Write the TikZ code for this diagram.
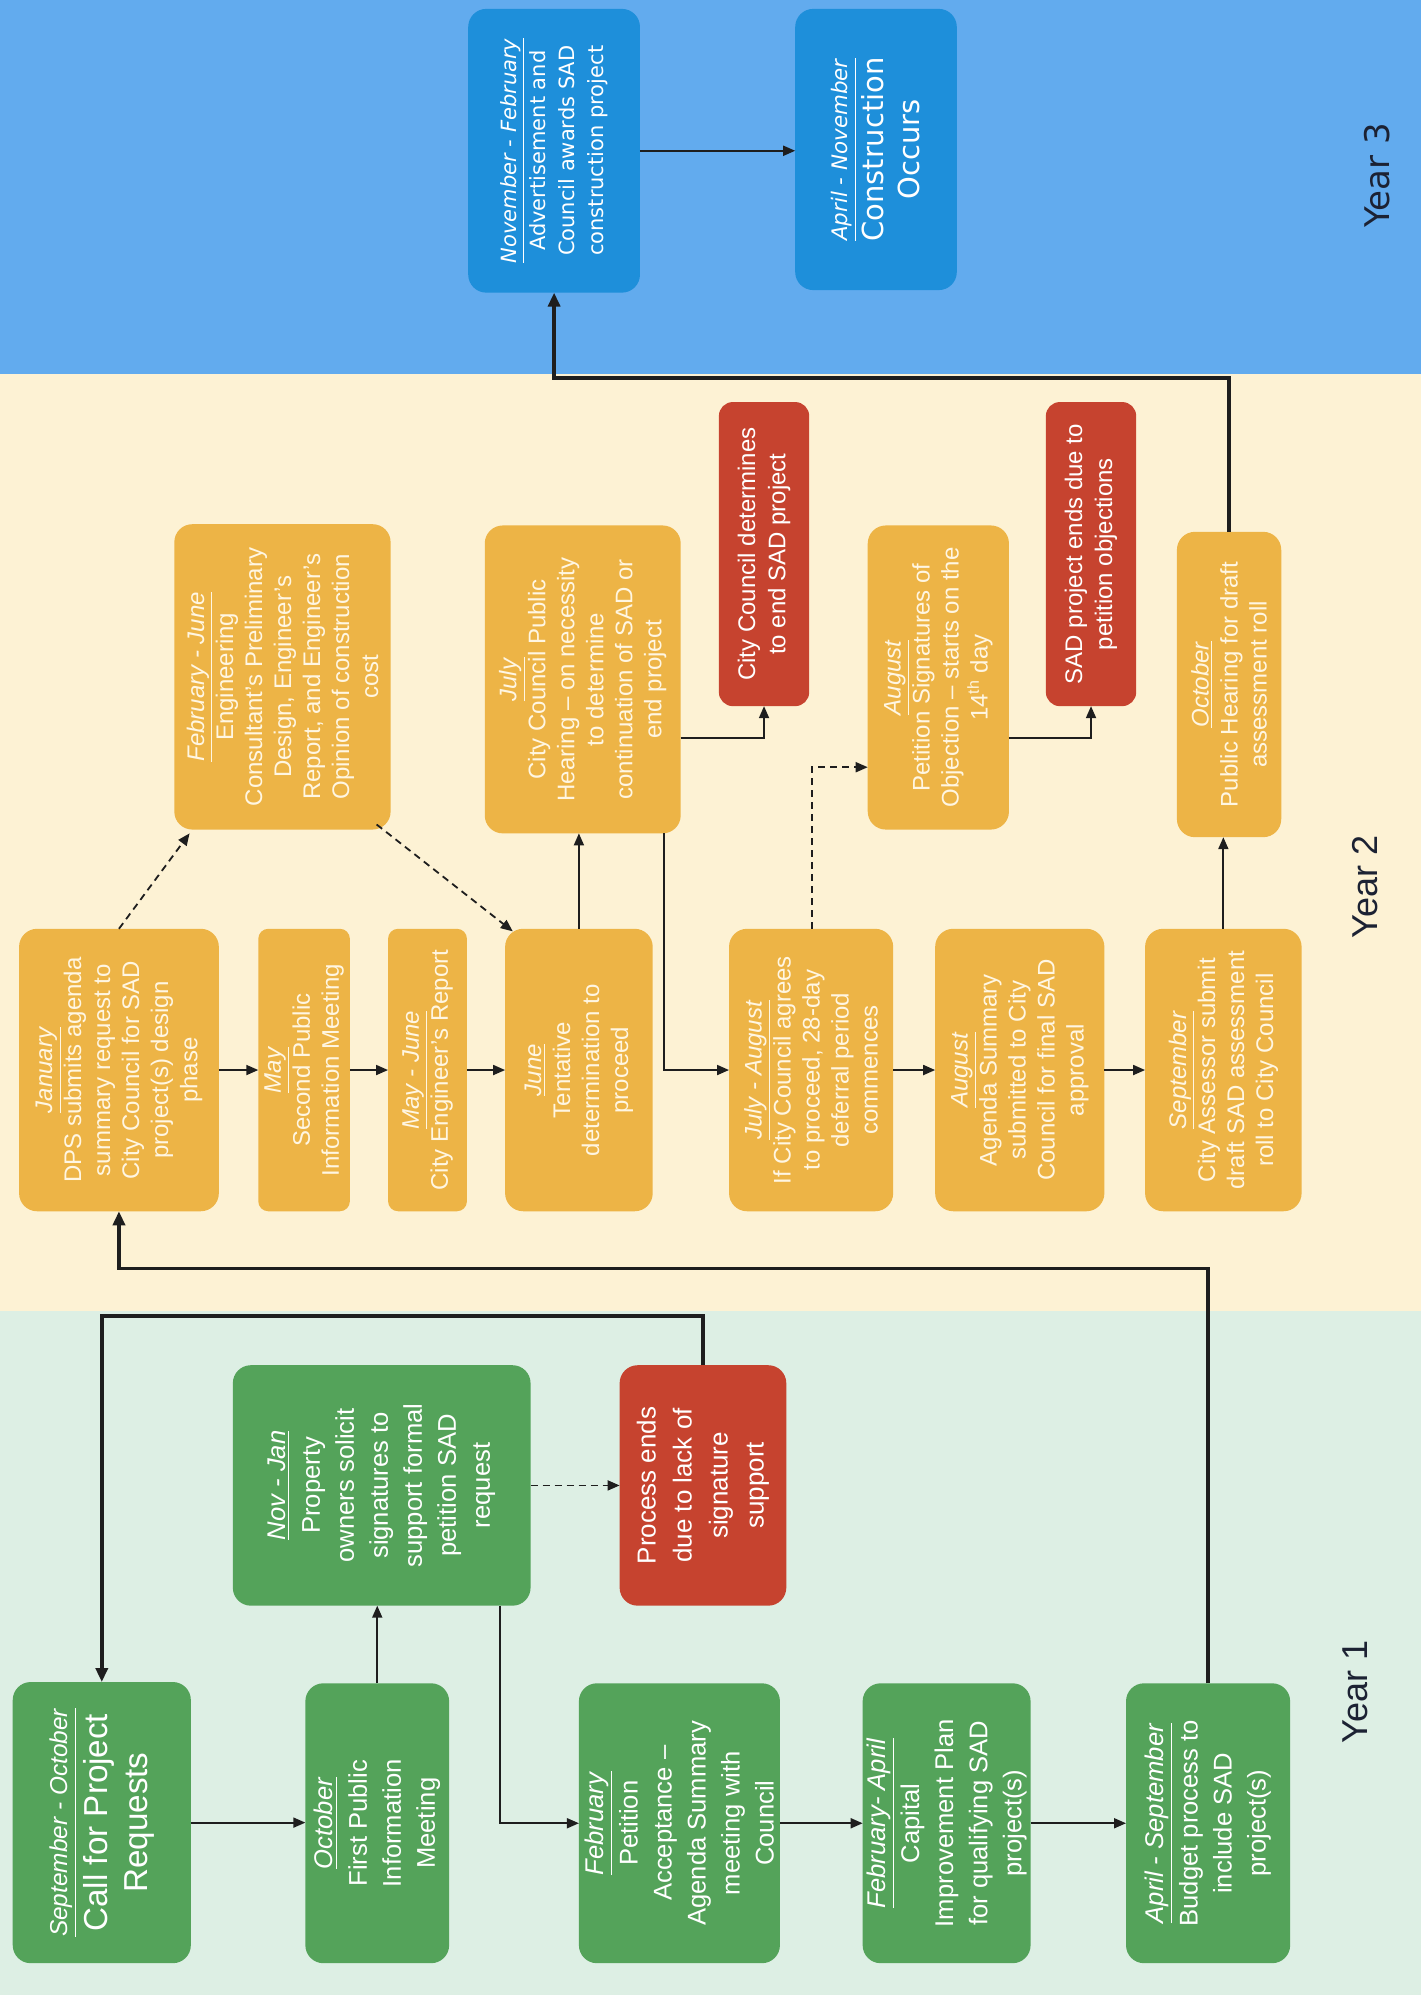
\documentclass[tikz,border=0pt]{standalone}
\usepackage{fontspec}
\setmainfont{Liberation Sans}
\newfontfamily\blufont{DejaVu Sans}
\usetikzlibrary{fit,arrows.meta,calc}
\definecolor{bandblue}{HTML}{62ABEE}
\definecolor{boxblue}{HTML}{1E8FDA}
\definecolor{bandcream}{HTML}{FDF2D4}
\definecolor{boxyellow}{HTML}{EDB446}
\definecolor{ytext}{HTML}{FFF6E2}
\definecolor{bandgreen}{HTML}{DDEFE4}
\definecolor{boxgreen}{HTML}{54A35A}
\definecolor{boxred}{HTML}{C6432F}
\definecolor{linec}{HTML}{1E1E1E}
\definecolor{labelc}{HTML}{1C2233}
\newcommand{\dlab}[1]{\underline{\textit{#1}}}
\newcommand{\mkbox}[6]{%
  \node[#2, fit={#3 #4}] (#1) {};
  \node[#5] (#1t) at (#1.center) {#6};
}
\tikzset{
  sbox/.style={rounded corners=9pt, inner sep=0pt, outer sep=0pt, draw=none},
  gbox/.style={sbox, fill=boxgreen},
  ybox/.style={sbox, fill=boxyellow},
  rbox/.style={sbox, fill=boxred},
  bbox/.style={sbox, fill=boxblue},
  txt/.style={rotate=90, align=center, inner sep=0pt, text=white},
  gtxt/.style={txt, font=\fontsize{12.8}{17}\selectfont},
  ytxt/.style={txt, text=ytext, font=\fontsize{12}{14.5}\selectfont},
  rtxt/.style={txt, font=\fontsize{12}{15}\selectfont},
  btxt/.style={txt, font=\blufont\fontsize{10.5}{14.6}\selectfont},
  arr/.style={-{Triangle[length=6pt,width=5pt]}, line width=0.9pt, draw=linec},
  thickarr/.style={-{Triangle[length=7pt,width=6pt]}, line width=2pt, draw=linec},
  dasharr/.style={arr, dash pattern=on 3.5pt off 2.5pt},
  yearlab/.style={rotate=90, text=labelc, inner sep=0pt, font=\fontsize{18}{20}\selectfont}
}
\begin{document}
\begin{tikzpicture}[x=0.636pt,y=-0.636pt]
\useasboundingbox (0,0) rectangle (1117,1568);
\fill[bandblue] (0,0) rectangle (1117,294);
\fill[bandcream] (0,294) rectangle (1117,1030);
\fill[bandgreen] (0,1030) rectangle (1117,1568);

% ---------- Year 1 ----------
\mkbox{call}{gbox}{(10,1322)}{(150,1543)}{txt, font=\fontsize{16.6}{20}\selectfont}{{\fontsize{12.2}{14}\selectfont\dlab{September - October}}\\Call for Project\\Requests}
\mkbox{oct1}{gbox}{(240,1323)}{(353,1543)}{gtxt}{\dlab{October}\\First Public\\Information\\Meeting}
\mkbox{novjan}{gbox}{(183,1073)}{(417,1262)}{gtxt}{\dlab{Nov - Jan}\\Property\\owners solicit\\signatures to\\support formal\\petition SAD\\request}
\mkbox{pend}{rbox}{(487,1073)}{(618,1262)}{txt, font=\fontsize{13}{18}\selectfont}{Process ends\\due to lack of\\signature\\support}
\mkbox{feb1}{gbox}{(455,1323)}{(613,1543)}{gtxt}{\dlab{February}\\Petition\\Acceptance –\\Agenda Summary\\meeting with\\Council}
\mkbox{febapr}{gbox}{(678,1323)}{(810,1543)}{gtxt}{\dlab{February- April}\\Capital\\Improvement Plan\\for qualifying SAD\\project(s)}
\mkbox{aprsep}{gbox}{(885,1323)}{(1014,1543)}{gtxt}{\dlab{April - September}\\Budget process to\\include SAD\\project(s)}
\node[yearlab] (y1) at (1065,1330) {Year 1};

% ---------- Year 2 ----------
\mkbox{jan}{ybox}{(15,730)}{(172,952)}{ytxt}{\dlab{January}\\DPS submits agenda\\summary request to\\City Council for SAD\\project(s) design\\phase}
\mkbox{may}{ybox, rounded corners=5pt}{(203,730)}{(275,952)}{ytxt}{\dlab{May}\\Second Public\\Information Meeting}
\mkbox{mayjun}{ybox, rounded corners=5pt}{(305,730)}{(367,952)}{ytxt}{\dlab{May - June}\\City Engineer’s Report}
\mkbox{jun}{ybox}{(397,730)}{(513,952)}{ytxt}{\dlab{June}\\Tentative\\determination to\\proceed}
\mkbox{febjun}{ybox}{(137,412)}{(307,652)}{ytxt}{\dlab{February - June}\\Engineering\\Consultant’s Preliminary\\Design, Engineer’s\\Report, and Engineer’s\\Opinion of construction\\cost}
\mkbox{jul}{ybox}{(381,413)}{(535,655)}{ytxt}{\dlab{July}\\City Council Public\\Hearing – on necessity\\to determine\\continuation of SAD or\\end project}
\mkbox{ccend}{rbox, rounded corners=7pt}{(565,316)}{(636,555)}{rtxt}{City Council determines\\to end SAD project}
\mkbox{julaug}{ybox}{(573,730)}{(702,952)}{ytxt}{\dlab{July - August}\\If City Council agrees\\to proceed, 28-day\\deferral period\\commences}
\mkbox{aug1}{ybox}{(735,730)}{(868,952)}{ytxt}{\dlab{August}\\Agenda Summary\\submitted to City\\Council for final SAD\\approval}
\mkbox{sep}{ybox}{(900,730)}{(1023,952)}{ytxt}{\dlab{September}\\City Assessor submit\\draft SAD assessment\\roll to City Council}
\mkbox{aug2}{ybox}{(682,413)}{(793,652)}{ytxt}{\dlab{August}\\Petition Signatures of\\Objection – starts on the\\14\textsuperscript{th} day}
\mkbox{sadend}{rbox, rounded corners=7pt}{(822,316)}{(893,555)}{rtxt}{SAD project ends due to\\petition objections}
\mkbox{oct2}{ybox}{(925,418)}{(1007,658)}{ytxt}{\dlab{October}\\Public Hearing for draft\\assessment roll}
\node[yearlab] (y2) at (1073,697) {Year 2};

% ---------- Year 3 ----------
\mkbox{novfeb}{bbox}{(368,7)}{(503,230)}{btxt}{\dlab{November - February}\\Advertisement and\\Council awards SAD\\construction project}
\mkbox{aprnov}{bbox}{(625,7)}{(752,228)}{txt, font=\blufont\fontsize{14.5}{18}\selectfont}{{\fontsize{10.7}{13}\selectfont\dlab{April - November}}\\Construction\\Occurs}
\node[yearlab, font=\blufont\fontsize{17}{20}\selectfont] (y3) at (1082,138) {Year 3};

% ---------- connector points ----------
\coordinate (nj1) at (393,1262);
\coordinate (bend1) at (0,1034);
\coordinate (bend2) at (0,997);
\coordinate (bend3) at (0,297);
\coordinate (fj1) at (149,655);
\coordinate (fj2) at (296,648);
\coordinate (ju1) at (403,732);
\coordinate (jl1) at (535,580);
\coordinate (jl2) at (522,655);
\coordinate (ja1) at (638,730);
\coordinate (ag1) at (682,603);
\coordinate (ag2) at (793,580);

% ---------- connectors ----------
\draw[arr] (call.east) -- (call.east -| oct1.west);
\draw[arr] (oct1.north) -- (oct1.north |- novjan.south);
\draw[dasharr] (novjan.east) -- (novjan.east -| pend.west);
\draw[arr] (nj1) |- (feb1.west);
\draw[thickarr] (pend.north) |- (bend1 -| call.north) -- (call.north);
\draw[arr] (feb1.east) -- (feb1.east -| febapr.west);
\draw[arr] (febapr.east) -- (febapr.east -| aprsep.west);
\draw[thickarr, line width=1.7pt] (aprsep.north) |- (bend2 -| jan.south) -- (jan.south);

\draw[arr] (jan.east) -- (jan.east -| may.west);
\draw[arr] (may.east) -- (may.east -| mayjun.west);
\draw[arr] (mayjun.east) -- (mayjun.east -| jun.west);
\draw[dasharr] (jan.north) -- (fj1);
\draw[dasharr] (fj2) -- (ju1);
\draw[arr] (jun.north) -- (jun.north |- jul.south);
\draw[arr] (jl1) -| (ccend.south);
\draw[arr] (jl2) |- (julaug.west);
\draw[arr] (julaug.east) -- (julaug.east -| aug1.west);
\draw[arr] (aug1.east) -- (aug1.east -| sep.west);
\draw[dasharr] (ja1) |- (ag1);
\draw[arr] (ag2) -| (sadend.south);
\draw[arr] (sep.north) -- (sep.north |- oct2.south);
\draw[thickarr] (oct2.north) |- (bend3 -| novfeb.south) -- (novfeb.south);
\draw[arr] (novfeb.east) -- (novfeb.east -| aprnov.west);
\end{tikzpicture}
\end{document}
